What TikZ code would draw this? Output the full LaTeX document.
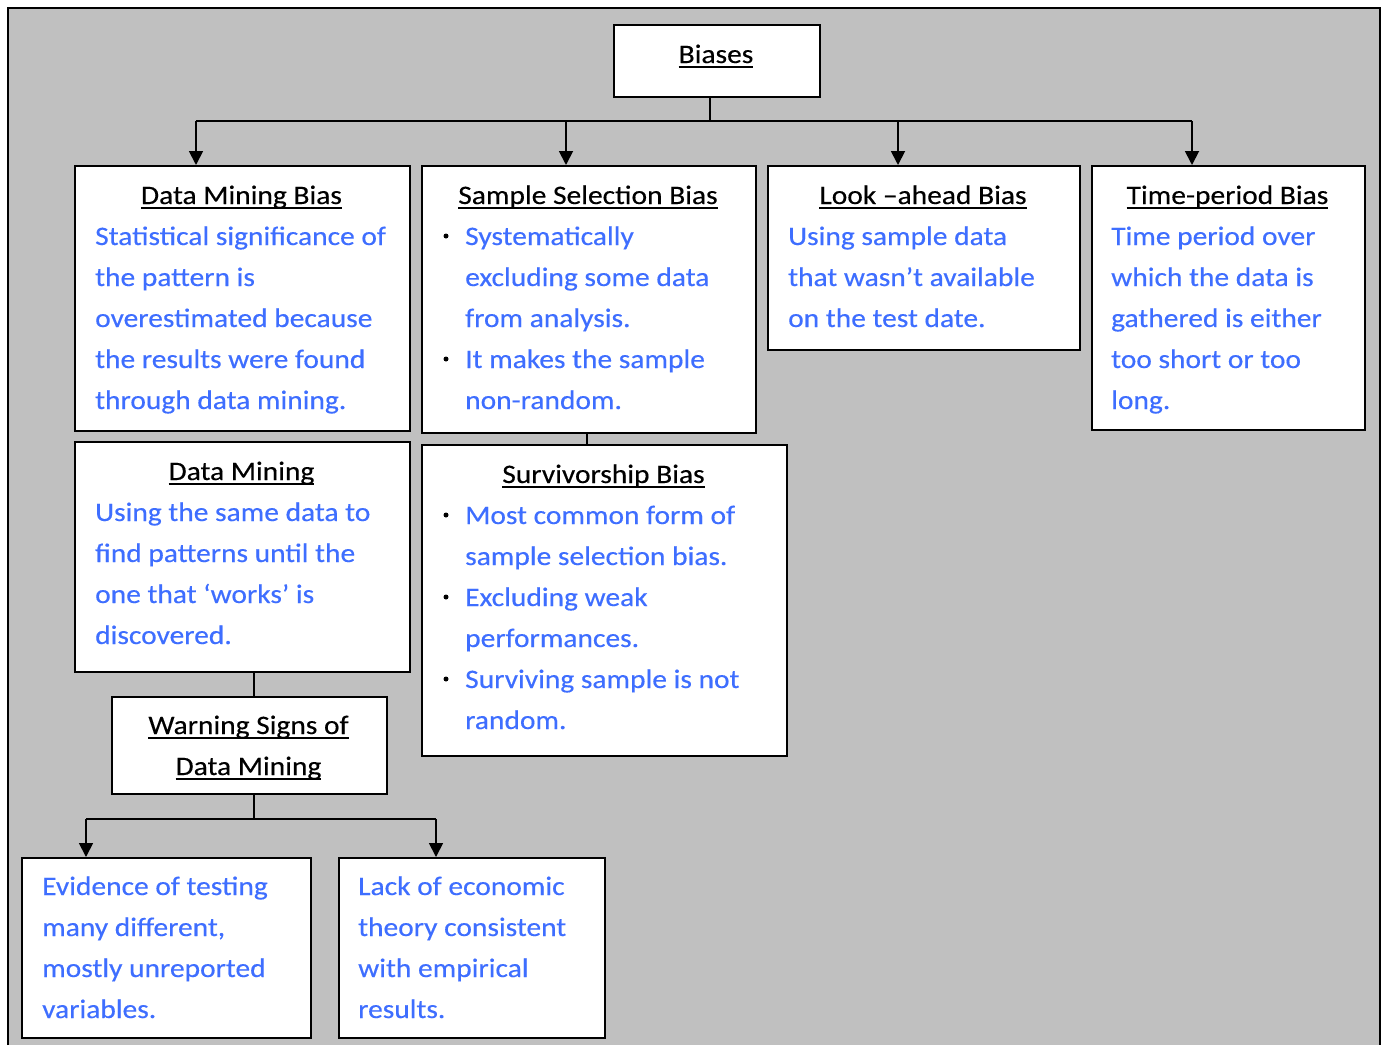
\documentclass[tikz,border=0pt]{standalone}
\usepackage{fontspec}
\setmainfont{Carlito}[FakeStretch=1.105,FakeBold=0.35]
\usetikzlibrary{arrows.meta}
\definecolor{panel}{RGB}{192,192,192}
\definecolor{note}{RGB}{62,110,255}
% underline that runs through descenders, as in a word processor
\newcommand\ulin[1]{\setbox0\hbox{#1}\rlap{\rule[-4.9pt]{\wd0}{1.8pt}}\box0}
\newcommand\textlines[1]{\begin{tabular}[t]{@{}l@{}}#1\end{tabular}}
\newcommand\ctrlines[1]{\begin{tabular}[t]{@{}c@{}}#1\end{tabular}}
\tikzset{
  box/.style={draw=black, fill=white, line width=1.8pt, inner sep=0pt, anchor=north west},
  heading/.style={font=\fontsize{26.67}{41}\selectfont, text=black, inner sep=0pt, anchor=base},
  body/.style={font=\fontsize{26.67}{41}\selectfont, text=note, inner sep=0pt, anchor=base west},
  conn/.style={line width=1.8pt},
  arr/.style={conn, -{Triangle[width=14pt,length=14pt]}},
  dot/.style={fill=black}
}
\begin{document}
\begin{tikzpicture}[x=1pt,y=-1pt]
\useasboundingbox (0,0) rectangle (1384,1045);
% panel
\fill[white] (0,0) rectangle (1384,1045);
\fill[panel] (8,8) rectangle (1380,1045);
\draw[line width=2pt] (8,1045) -- (8,8) -- (1380,8) -- (1380,1045);

% boxes
\node[box, minimum width=206pt, minimum height=72pt]  (biases) at (613,24) {};
\node[box, minimum width=335pt, minimum height=265pt] (dmb)    at (74,165) {};
\node[box, minimum width=334pt, minimum height=267pt] (ssb)    at (421,165) {};
\node[box, minimum width=312pt, minimum height=184pt] (look)   at (767,165) {};
\node[box, minimum width=273pt, minimum height=264pt] (time)   at (1091,165) {};
\node[box, minimum width=335pt, minimum height=230pt] (dm)     at (74,441) {};
\node[box, minimum width=365pt, minimum height=311pt] (surv)   at (421,444) {};
\node[box, minimum width=275pt, minimum height=97pt]  (warn)   at (111,696) {};
\node[box, minimum width=289pt, minimum height=180pt] (evid)   at (21,857) {};
\node[box, minimum width=266pt, minimum height=180pt] (lack)   at (338,857) {};

% connectors from the root
\coordinate (rootbus) at (710,121);
\coordinate (bA) at (196,121);
\coordinate (bB) at (566,121);
\coordinate (bC) at (898,121);
\coordinate (bD) at (1192,121);
\draw[conn] (rootbus |- biases.south) -- (rootbus);
\draw[conn] (bA) -- (bD);
\draw[arr] (bA) -- (bA |- dmb.north);
\draw[arr] (bB) -- (bB |- ssb.north);
\draw[arr] (bC) -- (bC |- look.north);
\draw[arr] (bD) -- (bD |- time.north);

% plain links
\coordinate (ssbx) at (587,0);
\draw[conn] (ssbx |- ssb.south) -- (ssbx |- surv.north);
\coordinate (dmx) at (254,0);
\draw[conn] (dmx |- dm.south) -- (dmx |- warn.north);

% warning signs branch
\coordinate (wbus) at (254,819);
\coordinate (wA) at (86,819);
\coordinate (wB) at (436,819);
\draw[conn] (dmx |- warn.south) -- (wbus);
\draw[conn] (wA) -- (wB);
\draw[arr] (wA) -- (wA |- evid.north);
\draw[arr] (wB) -- (wB |- lack.north);

% headings
\node[heading] (hbiases) at (716,63)     {\ulin{Biases}};
\node[heading] (hdmb)    at (241.5,204)  {\ulin{Data Mining Bias}};
\node[heading] (hssb)    at (588,204)    {\ulin{Sample Selection Bias}};
\node[heading] (hlook)   at (923,204)    {\ulin{Look –ahead Bias}};
\node[heading] (htime)   at (1227.5,204) {\ulin{Time-period Bias}};
\node[heading] (hdm)     at (241.5,480)  {\ulin{Data Mining}};
\node[heading] (hsurv)   at (603.5,483)  {\ulin{Survivorship Bias}};
\node[heading] (hwarn)   at (248.5,734)  {\ctrlines{\ulin{Warning Signs of}\\\ulin{Data Mining}}};

% descriptions
\node[body] (tdmb) at (95,245) {\textlines{Statistical significance of\\the pattern is\\overestimated because\\the results were found\\through data mining.}};
\node[body] (tssb) at (465,245) {\textlines{Systematically\\excluding some data\\from analysis.\\It makes the sample\\non-random.}};
\node[body] (tlook) at (788,245) {\textlines{Using sample data\\that wasn’t available\\on the test date.}};
\node[body] (ttime) at (1111,245) {\textlines{Time period over\\which the data is\\gathered is either\\too short or too\\long.}};
\node[body] (tdm) at (95,521) {\textlines{Using the same data to\\find patterns until the\\one that ‘works’ is\\discovered.}};
\node[body] (tsurv) at (465,524) {\textlines{Most common form of\\sample selection bias.\\Excluding weak\\performances.\\Surviving sample is not\\random.}};
\node[body] (tevid) at (42,895) {\textlines{Evidence of testing\\many different,\\mostly unreported\\variables.}};
\node[body] (tlack) at (358,895) {\textlines{Lack of economic\\theory consistent\\with empirical\\results.}};

% bullets
\fill[dot] (446,236) circle (2.5);
\fill[dot] (446,359) circle (2.5);
\fill[dot] (446,515) circle (2.5);
\fill[dot] (446,597) circle (2.5);
\fill[dot] (446,679) circle (2.5);
\end{tikzpicture}
\end{document}
